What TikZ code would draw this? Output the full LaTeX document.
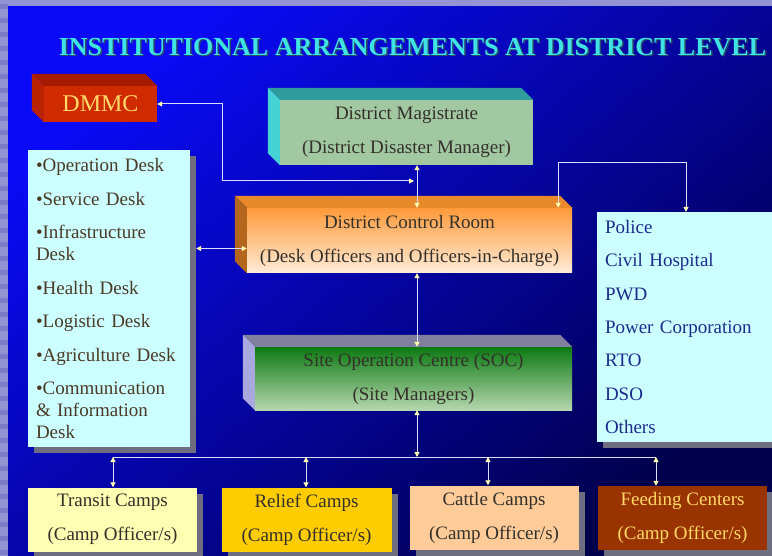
\documentclass[tikz,border=0pt]{standalone}
\usepackage{fontspec}
\setmainfont{Liberation Serif}
\usepackage{tikz}
\usetikzlibrary{arrows.meta,shadows}

\definecolor{bgtop}{HTML}{0A0AF6}
\definecolor{bgbot}{HTML}{00004C}
\definecolor{bgstrip}{HTML}{9494D4}
\definecolor{bgstripdark}{HTML}{7C7CC8}
\definecolor{titlecyan}{HTML}{3FE3E3}
\definecolor{titleshade}{HTML}{2A4A6A}
\definecolor{dmmcfront}{HTML}{D02A00}
\definecolor{dmmctop}{HTML}{A51C00}
\definecolor{dmmcside}{HTML}{BA2200}
\definecolor{dmfront}{HTML}{A2C8A2}
\definecolor{dmtop}{HTML}{2E9C9C}
\definecolor{dmside}{HTML}{44D2D2}
\definecolor{dcrhi}{HTML}{FF9A3A}
\definecolor{dcrlo}{HTML}{FFECD8}
\definecolor{dcrtop}{HTML}{E8892C}
\definecolor{dcrside}{HTML}{B4661C}
\definecolor{sochi}{HTML}{0C7A12}
\definecolor{soclo}{HTML}{B6D6AE}
\definecolor{soctop}{HTML}{80809E}
\definecolor{socside}{HTML}{A8A8DE}
\definecolor{listbg}{HTML}{CCFFFF}
\definecolor{boxtext}{HTML}{33302A}
\definecolor{desktext}{HTML}{4A3A26}
\definecolor{agencytext}{HTML}{1C2C8C}
\definecolor{transit}{HTML}{FFFFB3}
\definecolor{relief}{HTML}{FFCC00}
\definecolor{cattle}{HTML}{FFCC99}
\definecolor{feeding}{HTML}{993300}
\definecolor{feedtext}{HTML}{FFD966}
\definecolor{linecol}{HTML}{DCDCFF}
\definecolor{tipcol}{HTML}{FFFFB0}
\definecolor{shadowcol}{HTML}{6E6E80}

\begin{document}
\begin{tikzpicture}[x=1pt,y=-1pt]
                \tikzstyle{face}=[inner sep=0pt, align=center, font=\fontsize{19}{34}\selectfont, text=boxtext]
                \tikzstyle{listbox}=[fill=listbg, inner xsep=8pt, inner ysep=0pt, align=left, drop shadow={shadow xshift=6pt, shadow yshift=-6pt, fill=shadowcol, opacity=1}]
                \tikzstyle{camp}=[face, minimum width=169, minimum height=64, drop shadow={shadow xshift=6pt, shadow yshift=-6pt, fill=shadowcol, opacity=1}]
                \tikzstyle{link}=[draw=linecol, line width=1pt, >={Triangle[length=5pt,width=5pt,color=tipcol]}, <->]
                \tikzstyle{wire}=[draw=linecol, line width=1pt]

                % background
                \useasboundingbox (0,0) rectangle (772,556);
                \fill[bgstrip] (0,0) rectangle (772,556);
                \foreach \y in {4,18,...,556}
                \fill[bgstripdark] (0,\y) rectangle (8,\y+5);
                \shade[top color=bgtop, bottom color=bgbot, shading angle=40] (8,7) rectangle (772,556);

                % title
                \node[font=\fontsize{26}{26}\bfseries, text=titleshade] (titleshadow) at (414,48.5) {INSTITUTIONAL ARRANGEMENTS AT DISTRICT LEVEL};
                \node[font=\fontsize{26}{26}\bfseries, text=titlecyan] (title) at (412.5,47) {INSTITUTIONAL ARRANGEMENTS AT DISTRICT LEVEL};

                % 3d boxes
                \node[face, fill=dmmcfront, minimum width=113, minimum height=36, font=\fontsize{24}{24}\selectfont, text=feedtext] (dmmc) at (100.5,104) {DMMC};
                \node[face, fill=dmfront, minimum width=253, minimum height=65] (dm) at (406.5,132.5) {District Magistrate\\(District Disaster Manager)};
                \node[face, top color=dcrhi, bottom color=dcrlo, minimum width=325, minimum height=65] (dcr) at (409.5,240.5) {District Control Room\\(Desk Officers and Officers-in-Charge)};
                \node[face, top color=sochi, bottom color=soclo, minimum width=317, minimum height=63] (soc) at (413.5,378.5) {Site Operation Centre (SOC)\\(Site Managers)};

                \foreach \n/\tc/\sc in {dmmc/dmmctop/dmmcside, dm/dmtop/dmside, dcr/dcrtop/dcrside, soc/soctop/socside}
                {
                \fill[\tc] (\n.north west) -- ++(-12,-12) -- ([shift={(-12,-12)}]\n.north east) -- (\n.north east) -- cycle;
                \fill[\sc] (\n.north west) -- ++(-12,-12) -- ([shift={(-12,-12)}]\n.south west) -- (\n.south west) -- cycle;
                }

                % lists
                \node[listbox, minimum height=297, text width=146, text=desktext, font=\fontsize{19}{22}\selectfont] (desk) at (109,298.5)
                {\textbullet Operation Desk\\[12pt]\textbullet Service Desk\\[11pt]\textbullet Infrastructure\\Desk\\[12pt]\textbullet Health Desk\\[11pt]\textbullet Logistic Desk\\[12pt]\textbullet Agriculture Desk\\[11pt]\textbullet Communication\\\& Information\\Desk};
                \node[listbox, minimum height=230, text width=162, text=agencytext, font=\fontsize{19}{33.3}\selectfont] (agency) at (686,327)
                {Police\\Civil Hospital\\PWD\\Power Corporation\\RTO\\DSO\\Others};

                % camps
                \node[camp, fill=transit] (t1) at (112.5,519.5) {Transit Camps\\(Camp Officer/s)};
                \node[camp, fill=relief, minimum width=170] (t2) at (306.5,519.5) {Relief Camps\\(Camp Officer/s)};
                \node[camp, fill=cattle] (t3) at (494,517.5) {Cattle Camps\\(Camp Officer/s)};
                \node[camp, fill=feeding, text=feedtext] (t4) at (682.5,518) {Feeding Centers\\(Camp Officer/s)};

                % connectors
                \coordinate (spine) at (417,0);
                \coordinate (bend1) at (222,181);
                \coordinate (j1) at (414,181);
                \coordinate (dmb) at (dm.south -| spine);
                \coordinate (dcrt) at (dcr.north -| spine);
                \coordinate (dcrb) at (dcr.south -| spine);
                \coordinate (soct) at (soc.north -| spine);
                \coordinate (socb) at (soc.south -| spine);
                \coordinate (bus) at (417,457);
                \coordinate (dcrin) at ([yshift=-8pt]dcr.west);
                \path (desk.east |- dcrin) ++(6,0) coordinate (deskout);
                \coordinate (b1) at (113,457);
                \coordinate (b2) at (306,457);
                \coordinate (b3) at (488,457);
                \coordinate (b4) at (656,457);

                \path[link] (dmmc.east) -| (bend1) -- (j1);
                \path[link] ([xshift=-14pt]dcr.north east) -- ++(0,-45) -| (agency.north);
                \foreach \source/ \dest in {deskout/dcrin, dmb/dcrt, dcrb/soct, socb/bus}
                \path[link] (\source) -- (\dest);
                \path[wire] (b1) -- (b4);
                \foreach \n in {1,...,4}
                \path[link] (b\n) -- (b\n |- t\n.north);
            \end{tikzpicture}
\end{document}
